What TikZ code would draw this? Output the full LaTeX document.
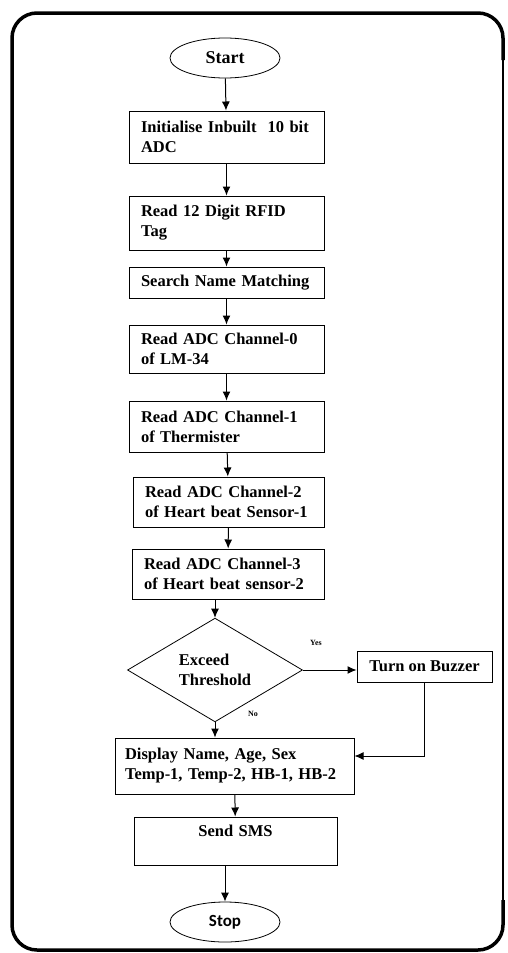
\documentclass[tikz,border=0pt]{standalone}
\usepackage{fontspec}
\setmainfont{Liberation Serif}
\newfontfamily\stopfont{Carlito}
\usetikzlibrary{shapes.geometric,arrows.meta}
\begin{document}
\begin{tikzpicture}[x=1pt,y=-1pt,
  every node/.style={font=\bfseries\fontsize{16.5}{20}\selectfont},
  term/.style={draw,ellipse,line width=0.8pt,minimum width=110pt,minimum height=40pt,inner sep=0pt},
  proc/.style={draw,rectangle,line width=1pt,align=left,inner xsep=12pt,inner ysep=2pt,text width=#1},
  proc/.default=171pt,
  flow/.style={-{Latex[length=9pt,width=8pt]},line width=1pt},
  tag/.style={font=\bfseries\fontsize{8}{9}\selectfont}]
\useasboundingbox (0,0) rectangle (508,953);
%\draw[gray,very thin,step=50] (0,0) grid (508,953);
\draw[line width=2.2pt] (503,40) -- (503,920);
\draw[line width=3.5pt,rounded corners=25pt] (503,60) -- (503,13) -- (12,13) -- (12,950) -- (503,950) -- (503,900);
\node[term,font=\bfseries\fontsize{18}{20}\selectfont] (start) at (225,58) {Start};
\node[proc,minimum height=52pt] (init) at (226.5,137) {Initialise Inbuilt\ \ 10 bit\\ADC};
\node[proc,minimum height=54pt] (rfid) at (226.5,223) {Read 12 Digit RFID\\Tag};
\node[proc,minimum height=31pt] (match) at (226.5,282.5) {Search Name Matching};
\node[proc,minimum height=48pt] (ch0) at (226.5,349) {Read ADC Channel-0\\of LM-34};
\node[proc,minimum height=51pt] (ch1) at (226.5,426.5) {Read ADC Channel-1\\of Thermister};
\node[proc=167pt,minimum height=50pt] (ch2) at (228.5,502) {Read ADC Channel-2\\of Heart beat Sensor-1};
\node[proc=168pt,minimum height=50pt] (ch3) at (228,574) {Read ADC Channel-3\\of Heart beat sensor-2};
\node[draw,diamond,line width=0.8pt,minimum width=175pt,minimum height=95pt,inner sep=0pt,align=left] (thr) at (215,670) {Exceed\\Threshold};
\node[draw,line width=1pt,minimum width=135pt,minimum height=31pt,inner sep=0pt] (buzz) at (424.5,666.5) {Turn on Buzzer};
\node[proc=219pt,inner xsep=10pt,minimum height=56pt] (disp) at (234.5,766) {Display Name, Age, Sex\\Temp-1, Temp-2, HB-1, HB-2};
\node[draw,line width=1pt,text width=183pt,inner xsep=10pt,align=center,minimum height=48pt] (sms) at (235.5,841) {Send SMS\\\mbox{}};
\node[term,font=\stopfont\bfseries\fontsize{17}{20}\selectfont] (stop) at (225,922) {Stop};
\node[tag] (yes) at (316,643) {Yes};
\node[tag] (no) at (253,714) {No};
\draw[flow] (start) -- (init);
\draw[flow] (init) -- (rfid);
\draw[flow] (rfid) -- (match);
\draw[flow] (match) -- (ch0);
\draw[flow] (ch0) -- (ch1);
\draw[flow] (ch1) -- (ch2);
\draw[flow] (ch2) -- (ch3);
\draw[flow] (ch3.south -| thr.north) -- (thr.north);
\draw[flow] (thr.east) -- (thr.east -| buzz.west);
\draw[flow] (thr.south) -- (thr.south |- disp.north);
\draw[flow] (buzz.south) |- ([yshift=10pt]disp.east);
\draw[flow] (disp) -- (sms);
\draw[flow] (stop.north |- sms.south) -- (stop.north);
\end{tikzpicture}
\end{document}
